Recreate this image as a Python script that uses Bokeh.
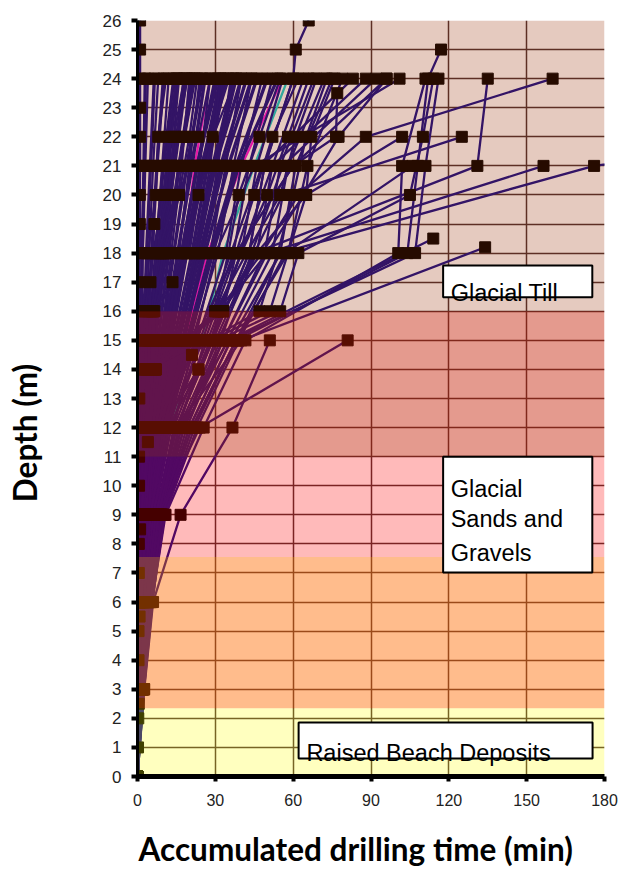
from bokeh.plotting import figure
from bokeh.models import Range1d, FixedTicker, BoxAnnotation, Label, LinearAxis
from bokeh.embed import file_html
from bokeh.resources import INLINE

# ---------------- data ----------------
x_ticks = [0, 30, 60, 90, 120, 150, 180]
y_ticks = list(range(0, 27))

# boreholes logged every 3 m
depth_a = [0, 3, 6, 9, 12, 15, 18, 21, 24]
times_a = [
    [0, 0.1, 0.3, 0.6, 1, 1.5, 2, 3, 4],
    [0, 0.2, 0.5, 1, 2, 3, 4.5, 6, 8],
    [0, 0.3, 0.8, 1.5, 3, 5, 7, 9.5, 12],
    [0, 0.4, 1, 2, 4, 7, 10, 13, 16],
    [0, 0.5, 1.2, 2.5, 5, 9, 13, 17, 20],
    [0, 0.6, 1.5, 3, 6, 11, 16, 20, 24],
    [0, 0.7, 1.8, 3.5, 7, 13, 19, 24, 28],
    [0, 0.8, 2, 4, 8, 15, 22, 28, 32],
    [0, 0.9, 2.3, 4.5, 9, 17, 25, 31, 36],
    [0, 1, 2.5, 5, 10, 19, 28, 34, 40],
    [0, 1.1, 2.8, 5.5, 11, 21, 31, 37, 44],
    [0, 1.2, 3, 6, 12, 23, 34, 40, 48],
    [0, 1.3, 3.3, 6.5, 13, 25, 37, 43, 52],
    [0, 1.4, 3.6, 7, 14, 27, 40, 46, 56],
    [0, 1.5, 4, 7.5, 15, 29, 43, 49, 60],
    [0, 1.6, 4.3, 8, 16, 31, 46, 52, 64],
    [0, 1.8, 4.6, 8.5, 17, 33, 49, 55, 68],
    [0, 2, 5, 9, 18, 34.7, 52, 58, 72],
    [0, 2.2, 5.4, 9.5, 20, 36, 55, 61, 75],
    [0, 2.5, 5.8, 10, 22, 38, 58, 65.5, 79],
    [0, 2.5, 5.5, 10.8, 25.5, 41.6, 100.5, 102, 111],
    [0, 2, 5, 9, 20, 36, 107, 111, 116],
    [0, 1.5, 4, 8, 18, 30, 45, 131, 135],
    [0, 1.8, 4.5, 9, 19, 33, 50, 156.5],
    [0, 2, 5, 9.5, 21, 38, 55, 176, 420],
    [0, 1.2, 3, 6, 13, 24, 36, 48, 83],
    [0, 1.4, 3.5, 7, 15, 28, 40, 52, 88],
    [0, 1.6, 4, 8, 17, 32, 44, 56, 92],
    [0, 2, 4.8, 9, 16, 26, 38, 60, 96],
    [0, 1.7, 4.2, 8.5, 14, 22, 30, 45, 101],
    [0, 2.4, 5.6, 10.5, 23, 39, 57, 106],
    [0, 2.6, 6, 16.6, 36.6, 51],
]
# slower boreholes forming the dense bundle near the depth axis (3 m logging)
times_dense = [
    [0, 0.1, 0.2, 0.4, 0.8, 1.2, 1.8, 2.5, 3],
    [0, 0.1, 0.3, 0.7, 1.5, 2.5, 3.5, 5, 6.5],
    [0, 0.2, 0.4, 1, 2.2, 3.8, 5.5, 7.5, 10],
    [0, 0.2, 0.6, 1.2, 2.8, 4.5, 7, 10, 14],
    [0, 0.3, 0.7, 1.5, 3.5, 6, 9, 12, 15],
    [0, 0.3, 0.8, 1.8, 4, 7, 10.5, 14, 18],
    [0, 0.4, 0.9, 2, 4.5, 8, 12, 16, 22],
    [0, 0.4, 1, 2.3, 5.2, 9, 14, 19, 25],
    [0, 0.5, 1.1, 2.6, 5.8, 10, 15.5, 21, 26],
    [0, 0.5, 1.3, 3, 6.5, 12, 17, 23, 30],
    [0, 0.6, 1.4, 3.2, 7.5, 13, 19, 26, 33],
    [0, 0.6, 1.6, 3.6, 8, 14, 21, 27, 34],
    [0, 0.7, 1.7, 3.9, 8.5, 15, 23, 30, 38],
    [0, 0.7, 1.9, 4.2, 9.5, 16, 24, 32, 42],
    [0, 0.8, 2.1, 4.6, 10, 17.5, 26, 35, 46],
    [0, 0.9, 2.2, 5, 11, 19, 28, 38, 50],
    [0, 1, 2.4, 5.3, 12, 20, 29, 39, 54],
    [0, 0.5, 1.5, 3.5, 9, 16, 22, 29, 37],
    [0, 0.3, 1, 2.5, 6, 11, 17, 23, 31],
    [0, 0.2, 0.6, 1.6, 3.5, 6.5, 11, 16, 21],
    [0, 0.1, 0.4, 1, 2.5, 5, 8, 11.5, 15.5],
    [0, 0.4, 1.2, 2.8, 6.8, 12.5, 18.5, 25, 32],
    [0, 0.6, 1.8, 4, 9, 15.5, 22.5, 30, 40],
    [0, 0.8, 2, 4.4, 10.5, 18, 25, 33, 44],
    [0, 0.2, 0.5, 1.3, 3, 5.5, 9.5, 13, 19],
    [0, 0.5, 1.2, 2.8, 7, 12, 18, 24.5, 35],
]

# boreholes logged every 3 m to 12 m, then every 2 m
depth_b = [0, 3, 6, 9, 12, 14, 16, 18, 20, 22, 24]
times_b = [
    [0, 0.1, 0.3, 0.5, 0.8, 1.2, 2, 4, 7, 8, 11],
    [0, 0.2, 0.4, 0.8, 1.5, 2, 3, 6, 10, 12, 15],
    [0, 0.2, 0.5, 1, 2.5, 3.5, 5, 9, 13, 16, 19],
    [0, 0.3, 0.7, 1.5, 3.5, 5, 6, 11, 16, 20, 23],
    [0, 0.4, 1, 2, 5, 7, 30, 35, 39, 47, 55],
    [0, 0.5, 1.2, 2.5, 9, 23.5, 33, 38, 45, 52, 62],
    [0, 0.5, 1.3, 2.8, 5.5, 7, 47, 54, 60, 65, 73],
    [0, 0.6, 1.5, 3, 5, 6, 51, 58, 65, 67, 76],
    [0, 0.7, 1.8, 3.5, 5.5, 6.5, 55, 62, 105, 110, 114],
    [0, 0.8, 2, 4, 4.5, 5, 32, 50, 64, 77.5, 96],
    [0, 0.9, 2.2, 4.5, 6, 7, 31, 48, 62, 88, 160],
    [0, 1, 2.5, 5, 12, 23.5, 33, 46, 65, 102],
    [0, 0.3, 0.8, 1.5, 3, 4, 33, 45, 56, 125],
    [0, 0.1, 0.2, 0.5, 1.2, 3, 4, 6, 12, 14, 18],
    [0, 0.2, 0.4, 0.8, 2, 4, 5.5, 8, 14.5, 18, 22],
    [0, 0.2, 0.5, 1, 3, 5.5, 6, 10, 16, 23.5, 28],
    [0, 0.3, 0.6, 1.2, 4, 6, 6.5, 20, 23.5, 29, 38],
    [0, 0.4, 0.9, 1.8, 4.5, 6, 31, 40, 50, 58, 66],
    [0, 0.5, 1.1, 2.2, 5, 7, 30, 42, 55, 61, 69],
]

# boreholes with irregular logging depths
extra_depths = [
    list(range(0, 27)),
    [0, 3, 6, 9, 12, 15],
    [0, 3, 6, 9, 12, 15, 18, 21, 24, 25, 26],
    [0, 3, 6, 9, 12, 15, 18, 21, 24, 25],
    [0, 3, 6, 9, 12, 15, 18, 21, 22, 23.5],
    [0, 3, 6, 9, 12, 15, 18.5],
    [0, 3, 6, 9, 12, 15, 18.2],
    [0, 3, 6, 9, 12, 15, 17, 19],
    [0, 3, 6, 9, 12, 15, 17],
    [0, 2.5, 5.5, 8.5, 11.5, 14.5],
]
extra_times = [
    [0, 0.2, 0.3, 0.3, 0.4, 0.4, 0.5, 0.5, 0.5, 0.6, 0.6, 0.6, 0.7, 0.7,
     0.7, 0.8, 0.8, 0.8, 0.9, 0.9, 0.9, 1, 1, 1, 1, 1, 1],
    [0, 1, 3, 8, 24, 81],
    [0, 1.5, 4, 7.5, 15, 29, 43, 49, 60, 61, 66],
    [0, 2, 5, 9.5, 21, 38, 104, 108, 112, 117],
    [0, 1, 2.6, 5, 11, 22, 38, 60, 76.5, 77],
    [0, 1.5, 4, 8, 16, 35, 114],
    [0, 1.2, 3.5, 7, 15, 40, 134],
    [0, 0.5, 1.5, 3, 4, 4.5, 5, 6.5],
    [0, 0.6, 1.6, 3.2, 6, 9, 13.5],
    [0, 0.5, 0.8, 1, 4, 21],
]

# highlighted boreholes (3 m logging)
magenta_times = [
    [0, 0.6, 1.8, 4, 10, 18, 27, 40, 56],
    [0, 0.4, 1, 3, 7, 13, 18, 22, 28],
]
cyan_times = [
    [0, 0.8, 2, 4.5, 12, 25, 33, 45, 58],
]

# geological units (depth ranges, m)
unit_bottoms = [0, 2.35, 7.55, 11, 16]
unit_tops = [2.35, 7.55, 11, 16, 26]

# ---------------- styles ----------------
LINE = "#120C88"
MARK = "#000000"
LW = 2.3
unit_colors = ["#FFFF00", "#FF6B00", "#FF0000", "#C31E05", "#962D00"]
unit_alphas = [0.25, 0.45, 0.27, 0.45, 0.25]
NB = "\u00a0"

p = figure(width=620, height=870, x_range=Range1d(0, 180), y_range=Range1d(0, 26),
           output_backend="svg", toolbar_location=None,
           min_border_left=137, min_border_right=16, min_border_top=20,
           min_border_bottom=94)
p.outline_line_color = None
p.background_fill_color = "white"
p.border_fill_color = "white"

# grid
p.xgrid.ticker = FixedTicker(ticks=x_ticks)
p.ygrid.ticker = FixedTicker(ticks=y_ticks)
for g in (p.xgrid, p.ygrid):
    g.grid_line_color = "#4A3030"
    g.grid_line_width = 1.5

# axes
p.xaxis.ticker = FixedTicker(ticks=x_ticks)
p.yaxis.ticker = FixedTicker(ticks=y_ticks)
for ax in (p.xaxis, p.yaxis):
    ax.axis_line_color = "black"
    ax.major_tick_line_color = "black"
    ax.minor_tick_line_color = None
    ax.major_tick_in = 0
    ax.major_label_text_font = "Liberation Sans"
    ax.major_label_text_color = "#222222"
    ax.level = "overlay"
p.xaxis.major_label_text_font_size = "16px"
p.yaxis.major_label_text_font_size = "17px"
p.xaxis.axis_line_width = 5
p.xaxis.major_tick_line_width = 4
p.xaxis.major_tick_out = 5
p.xaxis.major_label_standoff = 12
p.yaxis.axis_line_width = 3
p.yaxis.major_tick_line_width = 4
p.yaxis.major_tick_out = 6
p.yaxis.major_label_standoff = 10

# axis titles carried by tick-less outer axes
ytitle = LinearAxis(ticker=FixedTicker(ticks=[]), axis_line_color=None,
                    major_tick_line_color=None, minor_tick_line_color=None,
                    axis_label="Depth (m)" + NB * 9,
                    axis_label_text_font="Lato", axis_label_text_font_style="bold",
                    axis_label_text_font_size="31.5px", axis_label_text_color="black",
                    axis_label_standoff=56)
p.add_layout(ytitle, "left")
xtitle = LinearAxis(ticker=FixedTicker(ticks=[]), axis_line_color=None,
                    major_tick_line_color=None, minor_tick_line_color=None,
                    axis_label="Accumulated drilling time (min)" + NB * 4,
                    axis_label_text_font="Lato", axis_label_text_font_style="bold",
                    axis_label_text_font_size="31.5px", axis_label_text_color="black",
                    axis_label_standoff=21)
p.add_layout(xtitle, "below")

# borehole lines (highlighted ones first, mostly hidden beneath the others)
xs_a = times_a + times_dense
ys_a = [depth_a[:len(t)] for t in xs_a]
xs_b = times_b
ys_b = [depth_b[:len(t)] for t in times_b]
p.multi_line(xs=magenta_times, ys=[depth_a[:len(t)] for t in magenta_times],
             line_color="#FF10E0", line_width=LW)
p.multi_line(xs=cyan_times, ys=[depth_a[:len(t)] for t in cyan_times],
             line_color="#10D0D0", line_width=LW)
p.multi_line(xs=times_dense, ys=[depth_a[:len(t)] for t in times_dense],
             line_color=LINE, line_width=3.4)
p.multi_line(xs=times_a, ys=[depth_a[:len(t)] for t in times_a],
             line_color=LINE, line_width=LW)
p.multi_line(xs=xs_b, ys=ys_b, line_color=LINE, line_width=LW)
p.multi_line(xs=extra_times, ys=extra_depths, line_color=LINE, line_width=LW)

# sample markers
mx, my = [], []
for xs, ys in ((xs_a, ys_a), (xs_b, ys_b), (extra_times, extra_depths)):
    for tx, dy in zip(xs, ys):
        mx.extend(tx)
        my.extend(dy)
p.scatter(mx, my, marker="square", size=11, fill_color=MARK, line_color=MARK)

# translucent geological unit overlays
for b, t, c, a in zip(unit_bottoms, unit_tops, unit_colors, unit_alphas):
    p.add_layout(BoxAnnotation(bottom=b, top=t, fill_color=c, fill_alpha=a,
                               line_color=None))

# unit label boxes
def box(l, r, b, t, lc="black", lw=2):
    p.add_layout(BoxAnnotation(left=l, right=r, bottom=b, top=t, fill_color="white",
                               fill_alpha=1, line_color=lc, line_width=lw,
                               line_alpha=1))

box(117.8, 175.3, 16.48, 17.57)
box(117.8, 175.3, 7.02, 11.0)
box(62.1, 175.4, 0.62, 1.86)

def txt(x, y, s, size="23.5px"):
    p.add_layout(Label(x=x, y=y, text=s, text_font="Liberation Sans",
                       text_font_size=size, text_color="black",
                       text_baseline="alphabetic", text_align="left"))

txt(120.7, 16.62, "Glacial Till")
txt(120.7, 9.9, "Glacial")
txt(120.7, 8.84, "Sands and")
txt(120.7, 7.7, "Gravels")
txt(65.1, 0.80, "Raised Beach Deposits")

open("out.html", "w").write(file_html(p, INLINE))
